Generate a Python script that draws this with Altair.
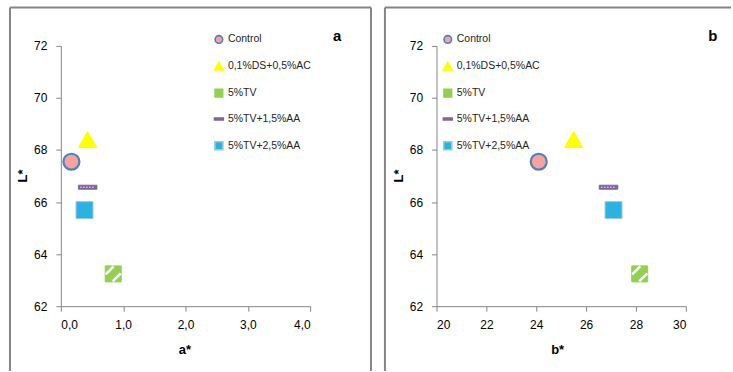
import altair as alt
import pandas as pd

# Colour measurements (CIELAB) for five formulations
samples = ["Control", "0,1%DS+0,5%AC", "5%TV", "5%TV+1,5%AA", "5%TV+2,5%AA"]
a_star = [0.17, 0.43, 0.84, 0.43, 0.38]
b_star = [24.1, 25.5, 28.15, 26.9, 27.1]
l_star = [67.55, 68.4, 63.24, 66.57, 65.69]

y_ticks = [62, 64, 66, 68, 70, 72]
a_ticks = [0, 1, 2, 3, 4]
b_ticks = [20, 22, 24, 26, 28, 30]
panel_letters = ["a", "b"]

df = pd.DataFrame({"sample": samples, "a": a_star, "b": b_star, "L": l_star})

FONT = "Liberation Sans"
GRAY = "#868686"

fills = ["#F7A1A1", "#FFFF00", "#92D050", "#8064A2", "#2CB1E3"]
strokes = ["#4F81BD", "#FFFF00", "#92D050", "#8064A2", "#92CDDC"]
# marker outlines in the unit box; relative sizes are built into each path
shapes = [
    "M-0.8,0A0.8,0.8,0,1,0,0.8,0A0.8,0.8,0,1,0,-0.8,0Z",
    "M0,-0.8L0.92,0.8L-0.92,0.8Z",
    "M-0.8,-0.8H0.8V0.8H-0.8Z",
    "M-0.93,-0.2H0.93V0.2H-0.93Z",
    "M-0.85,-0.85H0.85V0.85H-0.85Z",
]
MARK_SIZE = 400


def frame_lines(label_df, sides):
    """Gray panel border drawn as individual rules (x, x2, y, y2 in view pixels)."""
    layers = []
    for x0, x1, y0, y1 in sides:
        layers.append(
            alt.Chart(label_df).mark_rule(color=GRAY, strokeWidth=2).encode(
                x=alt.value(x0), x2=alt.value(x1), y=alt.value(y0), y2=alt.value(y1)
            )
        )
    return layers


def panel(field, x_title, x_domain, x_ticks, letter, legend_x, title_x, sides, label_expr=None):
    legend = alt.Legend(
        title=None, orient="none", legendX=legend_x, legendY=-12.5,
        symbolSize=90, symbolStrokeWidth=1.6, labelFont=FONT, labelFontSize=10.5,
        labelColor="#262626", rowPadding=12.9, padding=0, labelOffset=3,
    )
    x_axis_kw = dict(
        values=x_ticks, title=x_title, titleX=title_x, titleY=47,
        titleBaseline="alphabetic", titleAlign="center",
    )
    if label_expr:
        x_axis_kw["labelExpr"] = label_expr
    base = alt.Chart(df)
    x_enc = alt.X(f"{field}:Q", scale=alt.Scale(domain=x_domain, nice=False, zero=False),
                  axis=alt.Axis(**x_axis_kw))
    y_enc = alt.Y("L:Q", scale=alt.Scale(domain=[62, 72], nice=False, zero=False),
                  axis=alt.Axis(values=y_ticks, title="L*", titleX=-38, titleY=130,
                                titleBaseline="middle", titleAlign="center"))

    points = base.mark_point(filled=True, opacity=1, size=MARK_SIZE).encode(
        x=x_enc,
        y=y_enc,
        fill=alt.Fill("sample:N", scale=alt.Scale(domain=samples, range=fills), legend=legend),
        stroke=alt.Stroke("sample:N", scale=alt.Scale(domain=samples, range=strokes), legend=legend),
        shape=alt.Shape("sample:N", scale=alt.Scale(domain=samples, range=shapes), legend=legend),
        strokeWidth=alt.condition(alt.datum.sample == "Control", alt.value(2.2), alt.value(1)),
    )

    # white diagonal hatching on the 5%TV square
    hatch = base.transform_filter(alt.datum.sample == "5%TV").mark_point(
        shape="M-0.75,0.05L0.05,-0.75M-0.05,0.75L0.75,-0.05",
        stroke="white", strokeWidth=2.6, size=MARK_SIZE, filled=False, opacity=1,
    ).encode(x=f"{field}:Q", y="L:Q")

    # dotted texture on the 5%TV+1,5%AA bar
    dots = base.transform_filter(alt.datum.sample == "5%TV+1,5%AA").mark_point(
        shape="M-0.75,0L0.75,0", stroke="white", strokeWidth=1, strokeDash=[1.5, 1.5],
        size=MARK_SIZE, filled=False, opacity=0.9,
    ).encode(x=f"{field}:Q", y="L:Q")

    label_df = pd.DataFrame({"label": [letter]})
    letter_text = alt.Chart(label_df).mark_text(
        font=FONT, fontSize=15, fontWeight="bold", baseline="alphabetic", align="center",
        color="black",
    ).encode(x=alt.value(277), y=alt.value(-5), text="label:N")

    layers = frame_lines(label_df, sides) + [points, hatch, dots, letter_text]
    return alt.layer(*layers).properties(width=250, height=261)


# panel borders: left panel has left/top/right sides, right panel left/top
left_sides = [(-51, -51, -38.5, 326), (-51, 311, -38.5, -38.5), (311, 311, -38.5, 326)]
right_sides = [(-51.7, -51.7, -38.5, 326), (-51.7, 295.3, -38.5, -38.5)]

left = panel("a", "a*", [0, 4], a_ticks, panel_letters[0], 152.5, 124, left_sides,
             label_expr="replace(format(datum.value, '.1f'), '.', ',')")
right = panel("b", "b*", [20, 30], b_ticks, panel_letters[1], 5.3, 121, right_sides)

chart = alt.hconcat(left, right, spacing=126.7, bounds="flush").resolve_scale(
    x="independent", y="independent", fill="independent", stroke="independent",
    shape="independent",
).resolve_legend(
    fill="independent", stroke="independent", shape="independent",
).properties(
    padding={"left": 8, "top": 5.5, "right": 0, "bottom": 0},
    background="white",
).configure_view(stroke="transparent").configure_axis(
    grid=False, domainColor=GRAY, tickColor=GRAY, tickSize=5, domainWidth=1,
    labelFont=FONT, labelFontSize=12, labelColor="black", labelPadding=9,
    titleFont=FONT, titleFontSize=13, titleFontWeight="bold", titleColor="black",
).configure_axisX(labelPadding=8)

chart.save("out.html", embed_options={"renderer": "svg", "actions": False})
